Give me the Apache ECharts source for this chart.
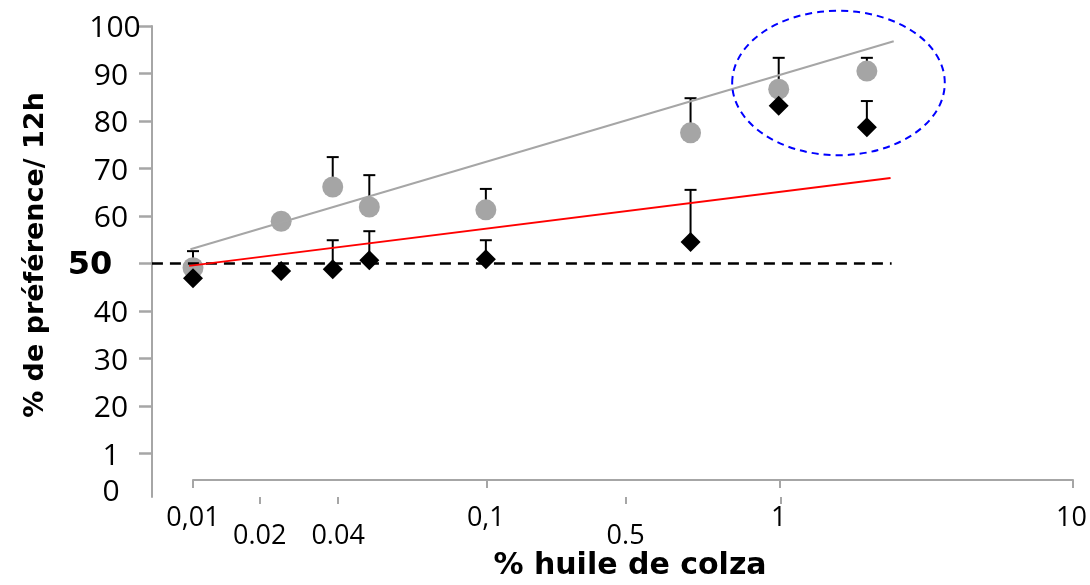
<!DOCTYPE html>
<html><head><meta charset="utf-8">
<script src="https://cdn.jsdelivr.net/npm/echarts@6/dist/echarts.min.js"></script>
<style>html,body{margin:0;padding:0;background:#fff}#c{width:1090px;height:585px}</style>
</head><body><div id="c"></div>
<script>
// ---- data ----
const concentrations = [0.01, 0.02, 0.03, 0.04, 0.1, 0.5, 1, 2];
const grayMean  = [49.1, 58.9, 66.1, 61.9, 61.3, 77.5, 86.7, 90.5];
const grayErr   = [3.5, null, 6.3, 6.7, 4.4, 7.3, 6.6, 2.8];
const blackMean = [46.9, 48.4, 48.8, 50.7, 50.9, 54.5, 83.2, 78.7];
const blackErr  = [null, null, 6.1, 6.1, 4.0, 11.0, null, 5.5];
const grayTrendX = [0.0098, 2.47];
const grayTrendY = [53, 96.8];
const redTrendX = [0.0097, 2.41];
const redTrendY = [49.5, 68];
const refX = [0.00724, 2.43];
const refY = [50, 50];
const xTickLabels  = ['0,01', '0.02', '0.04', '0,1', '0.5', '1', '10'];
const xTickLabelAt = [0.01, 0.0169, 0.0313, 0.1, 0.30, 1, 10];
const xMinorTickAt = [0.0169, 0.0313, 0.30, 1.02];
const yTickLabels  = ['0', '1', '20', '30', '40', '50', '60', '70', '80', '90', '100'];
const yTickLabelAt = [2.3, 10, 20, 30, 40, 50, 60, 70, 80, 90, 100];
const yTickAt      = [10, 20, 30, 40, 50, 60, 70, 80, 90, 100];
const highlight = { x: 1.6, y: 88, halfDecades: 0.363, halfY: 15.2 };
const xTitle = '% huile de colza';
const yTitle = '% de préférence/ 12h';

// ---- build ----
const lg = Math.log10;
const pts = (xs, ys) => xs.map((x, i) => [lg(x), ys[i]]);
const errData = (means, errs) => concentrations
  .map((x, i) => [lg(x), means[i], errs[i]])
  .filter(d => d[2] != null);

function findIdx(list, v) {
  let best = 0, bd = Infinity;
  list.forEach((a, i) => { const d = Math.abs(a - v); if (d < bd) { bd = d; best = i; } });
  return best;
}

function renderErr(params, api) {
  const x = api.value(0), m = api.value(1), e = api.value(2);
  const p0 = api.coord([x, m]), p1 = api.coord([x, m + e]);
  const half = 6;
  return { type: 'group', children: [
    { type: 'line', shape: { x1: p0[0], y1: p0[1], x2: p1[0], y2: p1[1] }, style: { stroke: '#000', lineWidth: 2 } },
    { type: 'line', shape: { x1: p1[0] - half, y1: p1[1], x2: p1[0] + half, y2: p1[1] }, style: { stroke: '#000', lineWidth: 2 } }
  ]};
}

function renderEllipse(params, api) {
  const cx = api.value(0), cy = api.value(1), dx = api.value(2), dy = api.value(3);
  const c = api.coord([cx, cy]);
  const e = api.coord([cx + dx, cy - dy]);
  return { type: 'ellipse', shape: { cx: c[0], cy: c[1], rx: e[0] - c[0], ry: e[1] - c[1] },
    style: { fill: 'none', stroke: '#0000ff', lineWidth: 2, lineDash: [7, 5] } };
}

const gray = '#a6a6a6';
const chart = echarts.init(document.getElementById('c'), null, { renderer: 'canvas' });
chart.setOption({
  animation: false,
  backgroundColor: '#fff',
  grid: [
    { left: 152, right: 17, top: 26, bottom: 88 },
    { left: 193, right: 17, top: 479, height: 1 }
  ],
  xAxis: [
    {
      type: 'value', min: -2.14, max: 1, gridIndex: 0,
      axisLine: { show: false, onZero: false },
      axisTick: { show: true, customValues: xMinorTickAt.map(lg), length: 7, lineStyle: { color: gray, width: 2 } },
      axisLabel: {
        customValues: xTickLabelAt.map(lg), margin: 8,
        formatter: v => {
          const i = findIdx(xTickLabelAt.map(lg), v);
          const t = xTickLabels[i];
          return (t.indexOf('.') >= 0 ? '{b|' : '{a|') + t + '}';
        },
        rich: {
          a: { fontFamily: 'Open Sans', fontSize: 27, color: '#000', lineHeight: 26 },
          b: { fontFamily: 'Open Sans', fontSize: 27, color: '#000', lineHeight: 26, padding: [36, 0, 0, 0] }
        }
      },
      splitLine: { show: false }
    },
    {
      type: 'value', min: -2, max: 1, interval: 1, gridIndex: 1,
      axisLine: { show: true, onZero: false, lineStyle: { color: gray, width: 2 } },
      axisTick: { show: true, length: 8, lineStyle: { color: gray, width: 2 } },
      axisLabel: { show: false },
      splitLine: { show: false }
    }
  ],
  yAxis: [
    {
      type: 'value', min: 0.84, max: 100, gridIndex: 0,
      axisLine: { show: true, onZero: false, lineStyle: { color: gray, width: 2 } },
      axisTick: { show: true, customValues: yTickAt, length: 13, lineStyle: { color: gray, width: 2.5 } },
      axisLabel: {
        customValues: yTickLabelAt, align: 'center', margin: 41,
        formatter: v => {
          const t = yTickLabels[findIdx(yTickLabelAt, v)];
          if (t === '50') return '{big|50}';
          if (t === '100') return '{w|100}';
          return '{n|' + t + '}';
        },
        rich: {
          n: { fontFamily: 'Open Sans', fontSize: 30, color: '#000', padding: [5, 0, 0, 0] },
          w: { fontFamily: 'Open Sans', fontSize: 30, color: '#000', padding: [5, 0, 0, 8] },
          big: { fontFamily: 'DejaVu Sans', fontWeight: 'bold', fontSize: 32, color: '#000', padding: [4, 42, 0, 0] }
        }
      },
      splitLine: { show: false }
    },
    { type: 'value', gridIndex: 1, show: false, axisLine: { onZero: false } }
  ],
  series: [
    { type: 'custom', name: 'grayErr', renderItem: renderErr, data: errData(grayMean, grayErr),
      encode: { x: 0, y: 1 }, z: 2, silent: true },
    { type: 'custom', name: 'blackErr', renderItem: renderErr, data: errData(blackMean, blackErr),
      encode: { x: 0, y: 1 }, z: 2, silent: true },
    { type: 'scatter', name: 'gray', data: pts(concentrations, grayMean), symbol: 'circle', symbolSize: 21,
      itemStyle: { color: '#a5a5a5', opacity: 1 }, z: 3 },
    { type: 'line', name: 'ref', data: pts(refX, refY), symbol: 'none',
      lineStyle: { color: '#000', width: 2.5, type: [11, 7] }, z: 4 },
    { type: 'line', name: 'grayTrend', data: pts(grayTrendX, grayTrendY), symbol: 'none',
      lineStyle: { color: gray, width: 2 }, z: 4 },
    { type: 'line', name: 'redTrend', data: pts(redTrendX, redTrendY), symbol: 'none',
      lineStyle: { color: '#ff0000', width: 2 }, z: 4 },
    { type: 'scatter', name: 'black', data: pts(concentrations, blackMean), symbol: 'diamond', symbolSize: 20,
      itemStyle: { color: '#000', opacity: 1 }, z: 5 },
    { type: 'custom', name: 'highlight', renderItem: renderEllipse, clip: false,
      data: [[lg(highlight.x), highlight.y, highlight.halfDecades, highlight.halfY]],
      encode: { x: 0, y: 1 }, z: 6, silent: true }
  ],
  graphic: [
    { type: 'text', x: 36, y: 255, rotation: Math.PI / 2,
      style: { text: yTitle, font: 'bold 27px "DejaVu Sans"', fill: '#000',
        align: 'center', verticalAlign: 'middle', textAlign: 'center', textVerticalAlign: 'middle' } },
    { type: 'text', x: 630, y: 566,
      style: { text: xTitle, font: 'bold 30px "DejaVu Sans"', fill: '#000',
        align: 'center', verticalAlign: 'middle', textAlign: 'center', textVerticalAlign: 'middle' } }
  ]
});
</script>
</body></html>
